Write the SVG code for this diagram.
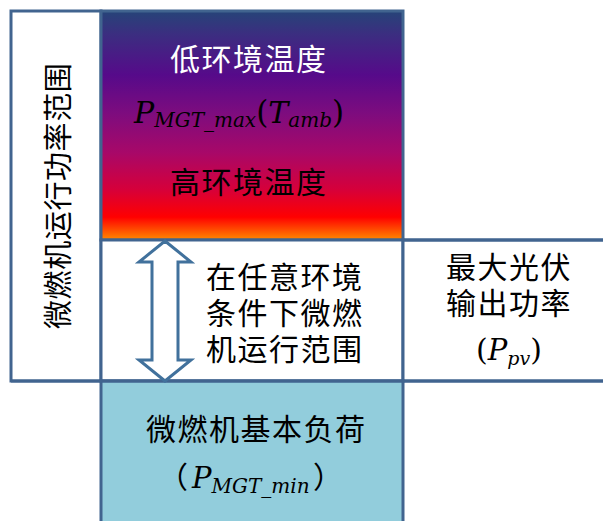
<svg xmlns="http://www.w3.org/2000/svg" width="603" height="521" viewBox="0 0 603 521">
<defs>
<linearGradient id="temp" x1="0" y1="0" x2="0" y2="1">
<stop offset="0" stop-color="#264478"/>
<stop offset="0.1" stop-color="#3b2e80"/>
<stop offset="0.28" stop-color="#560a8a"/>
<stop offset="0.45" stop-color="#7e0c7e"/>
<stop offset="0.62" stop-color="#a80868"/>
<stop offset="0.78" stop-color="#d6003a"/>
<stop offset="0.9" stop-color="#ff0000"/>
<stop offset="1" stop-color="#ff8a00"/>
</linearGradient>
</defs>
<style>
.box{stroke:#41648f;stroke-width:3}
.cjk{font-family:"Noto Sans CJK SC","Noto Sans",sans-serif;font-size:30px;letter-spacing:1.5px}
.math{font-family:"DejaVu Serif","Liberation Serif",serif;font-style:italic}
.up{font-style:normal}
.arrow{fill:#ffffff;stroke:#41719c;stroke-width:3;stroke-linejoin:miter}
</style>
<rect width="603" height="521" fill="#ffffff"/>
<g id="range-label">
<rect class="box" x="11" y="11" width="90" height="370" fill="#ffffff"/>
<text class="cjk" transform="translate(69,329) rotate(-90)" fill="#000000" style="font-size:29px;letter-spacing:0.6px">微燃机运行功率范围</text>
</g>
<g id="max-power">
<rect class="box" x="101" y="11" width="302" height="229" fill="url(#temp)"/>
<text class="cjk" x="170" y="70" fill="#ffffff">低环境温度</text>
<text class="math" y="123" fill="#000000"><tspan x="134" font-size="30">P</tspan><tspan font-size="20" dy="4">MGT_max</tspan><tspan class="up" font-size="31" dy="-4">(</tspan><tspan font-size="30">T</tspan><tspan font-size="20" dy="4">amb</tspan><tspan class="up" font-size="31" dy="-4">)</tspan></text>
<text class="cjk" x="170" y="193" fill="#000000">高环境温度</text>
</g>
<g id="operating-range">
<rect class="box" x="101" y="240" width="302" height="141" fill="#ffffff"/>
<text class="cjk" fill="#000000"><tspan x="206" y="288">在任意环境</tspan><tspan x="206" y="324">条件下微燃</tspan><tspan x="206" y="360">机运行范围</tspan></text>
</g>
<g id="pv-power">
<rect class="box" x="403" y="240" width="220" height="141" fill="#ffffff"/>
<text class="cjk" fill="#000000"><tspan x="446" y="278">最大光伏</tspan><tspan x="446" y="314">输出功率</tspan></text>
<text class="math" y="360" fill="#000000"><tspan class="up" x="476" font-size="30">(</tspan><tspan font-size="29">P</tspan><tspan font-size="19" dy="5">pv</tspan><tspan class="up" font-size="30" dy="-5">)</tspan></text>
</g>
<g id="base-load">
<rect class="box" x="101" y="381" width="302" height="160" fill="#92cddc"/>
<text class="cjk" x="146" y="440" fill="#000000">微燃机基本负荷</text>
<text class="cjk" x="158" y="488" fill="#000000" style="letter-spacing:0">（</text>
<text class="math" y="488" fill="#000000"><tspan x="192" font-size="29">P</tspan><tspan font-size="20" dy="5">MGT_min</tspan></text>
<text class="cjk" x="313" y="488" fill="#000000" style="letter-spacing:0">）</text>
</g>
<g id="connectors">
<line class="box" x1="403" y1="240" x2="603" y2="240"/>
<line class="box" x1="11" y1="381" x2="603" y2="381"/>
<polygon class="arrow" points="165,241 191,262 178,262 178,360 191,360 165,381 139,360 152,360 152,262 139,262"/>
</g>
</svg>
